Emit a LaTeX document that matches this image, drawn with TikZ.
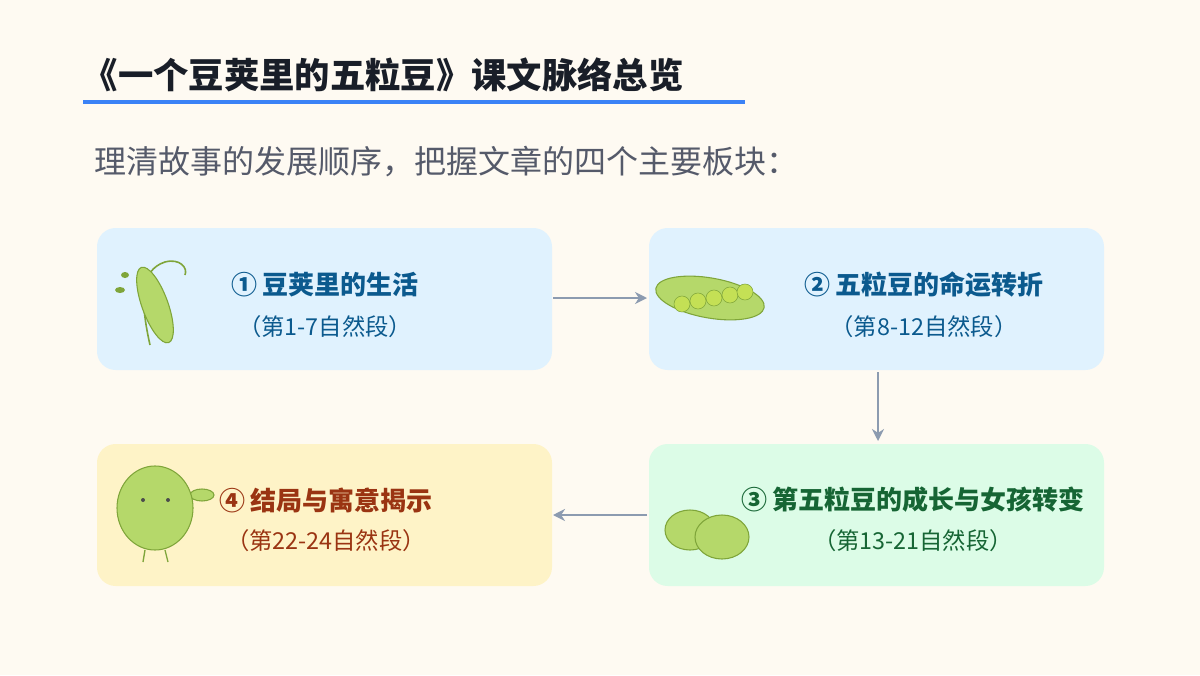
\documentclass[tikz,border=0pt]{standalone}
\usepackage{fontspec}
\setmainfont{Noto Sans CJK SC}
\usetikzlibrary{arrows.meta}
\definecolor{bg}{HTML}{FEFAF2}
\definecolor{bluebox}{HTML}{E0F2FE}
\definecolor{greenbox}{HTML}{DCFCE7}
\definecolor{yellowbox}{HTML}{FEF3C7}
\definecolor{tblue}{HTML}{0B5A8E}
\definecolor{tgreen}{HTML}{166534}
\definecolor{tbrown}{HTML}{9A3412}
\definecolor{arr}{HTML}{8C9BB0}
\definecolor{pea}{HTML}{B5D86A}
\definecolor{peadark}{HTML}{7FA53A}
\begin{document}
\begin{tikzpicture}[x=0.75pt,y=-0.75pt,
  box/.style={rounded corners=14pt,draw=none},
  ttl/.style={font=\fontsize{19.5}{22}\selectfont\bfseries,anchor=center},
  sub/.style={font=\fontsize{17.5}{20}\selectfont,anchor=center},
  conn/.style={draw=arr,line width=2pt,-{Stealth[length=9pt,width=9pt]}},
  peashape/.style={fill=pea,draw=peadark,line width=0.8pt}]
\fill[bg] (0,0) rectangle (1200,675);
\useasboundingbox (0,0) rectangle (1200,675);
\node[anchor=west,font=\fontsize{26.5}{30}\selectfont\bfseries,text={rgb,255:red,25;green,30;blue,40}] (title) at (78,75) {《一个豆荚里的五粒豆》课文脉络总览};
\draw[line width=3pt,draw={rgb,255:red,59;green,130;blue,246}] (83,102) -- (745,102);
\node[anchor=west,font=\fontsize{24}{28}\selectfont,text={rgb,255:red,85;green,90;blue,106}] (subt) at (90,162) {理清故事的发展顺序，把握文章的四个主要板块：};
% boxes
\fill[box,bluebox] (97,228) rectangle (552,370);
\fill[box,bluebox] (649,228) rectangle (1104,370);
\fill[box,greenbox] (649,444) rectangle (1104,586);
\fill[box,yellowbox] (97,444) rectangle (552,586);
\coordinate (b1e) at (553,298); \coordinate (b2w) at (647,298);
\coordinate (b2s) at (878,372); \coordinate (b3n) at (878,441);
\coordinate (b3w) at (647,515); \coordinate (b4e) at (553,515);
\node[ttl,text=tblue] (t1) at (325,285) {① 豆荚里的生活};
\node[sub,text=tblue] (s1) at (325,327) {（第1-7自然段）};
\node[ttl,text=tblue] (t2) at (924,285) {② 五粒豆的命运转折};
\node[sub,text=tblue] (s2) at (924,327) {（第8-12自然段）};
\node[ttl,text=tgreen] (t3) at (913,500) {③ 第五粒豆的成长与女孩转变};
\node[sub,text=tgreen] (s3) at (913,541) {（第13-21自然段）};
\node[ttl,text=tbrown] (t4) at (326,500) {④ 结局与寓意揭示};
\node[sub,text=tbrown] (s4) at (326,541) {（第22-24自然段）};
\draw[conn] (b1e) -- (b2w);
\draw[conn] (b2s) -- (b3n);
\draw[conn] (b3w) -- (b4e);
% illustrations
\draw[peadark,line width=1.2pt] (150,345) .. controls (140,300) and (140,270) .. (165,262) .. controls (180,258) and (188,268) .. (185,275);
\draw[peashape,rotate around={-70:(155,305)}] (155,305) ellipse (40 and 13);
\fill[peadark] (120,290) ellipse (5 and 3); \fill[peadark] (125,275) ellipse (4 and 3);
\draw[peashape,rotate around={-10:(710,298)}] (710,298) ellipse (55 and 20);
\foreach \x/\y in {682/304,698/301,714/298,730/295,745/292}{\draw[fill=pea!80!yellow,draw=peadark] (\x,\y) circle (8);}
\draw[peashape] (690,530) ellipse (25 and 20);
\draw[peashape] (722,537) ellipse (27 and 22);
\draw[peashape] (202,495) ellipse (12 and 6);
\draw[peashape] (155,508) ellipse (38 and 42);
\fill[black!70] (143,500) circle (2); \fill[black!70] (168,500) circle (2);
\draw[peadark,line width=1pt] (145,550) -- (143,562) (165,550) -- (168,562);
\end{tikzpicture}
\end{document}
